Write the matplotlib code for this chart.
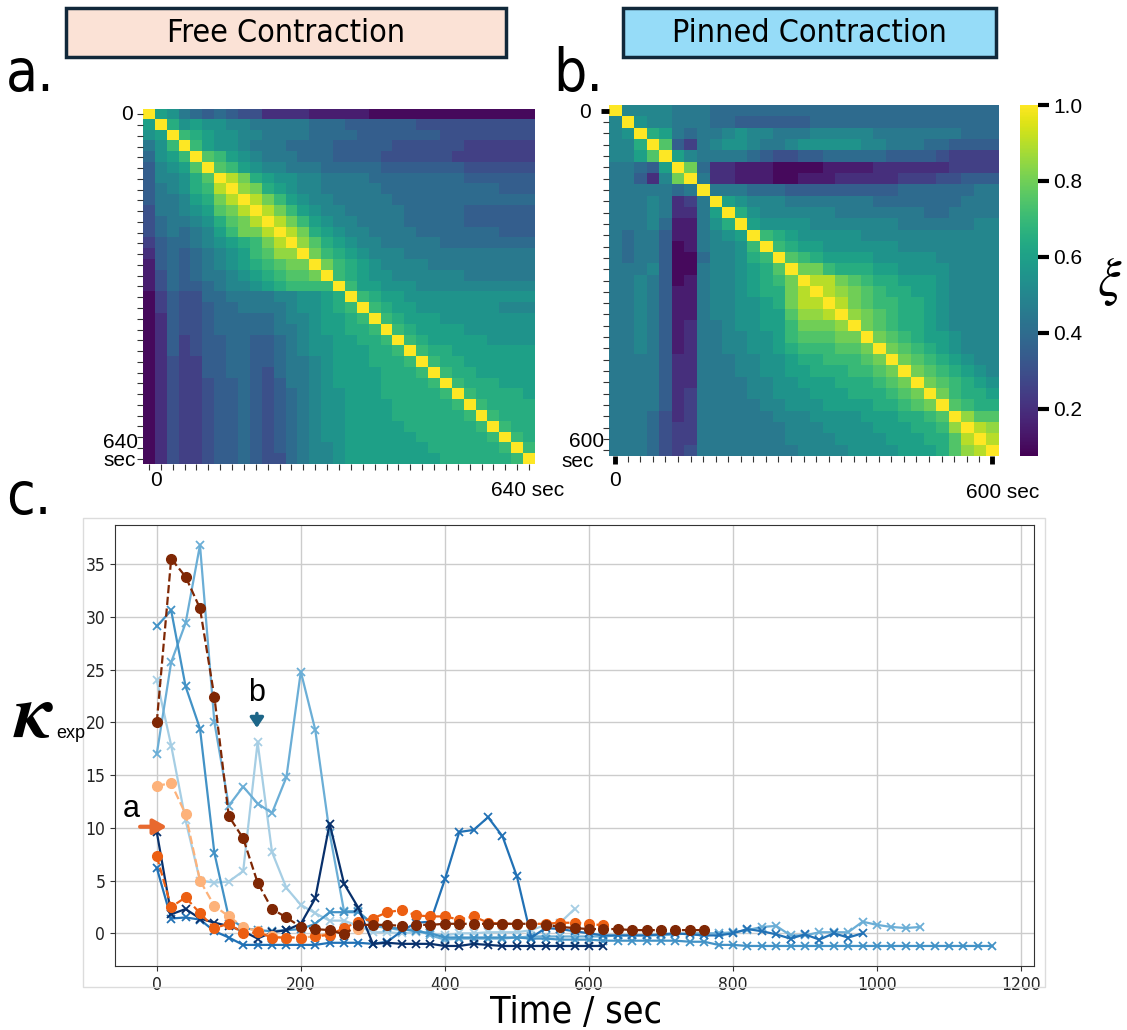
import numpy as np
import matplotlib
matplotlib.use('Agg')
import matplotlib.pyplot as plt
from matplotlib.patches import Rectangle
from matplotlib import font_manager

W, H = 1127, 1030
plt.rcParams['mathtext.fontset'] = 'stix'
SANS = ['Liberation Sans', 'DejaVu Sans']

# pick a narrow regular face for the headers and axis text
_names = {f.name for f in font_manager.fontManager.ttflist}
_condensed = [f.fname for f in font_manager.fontManager.ttflist
              if f.fname.endswith('DejaVuSansCondensed.ttf')]
if 'Liberation Sans Narrow' in _names:
    NARROW = dict(family=['Liberation Sans Narrow', 'DejaVu Sans'])
elif _condensed:
    NARROW = dict(fname=_condensed[0])
else:
    NARROW = dict(family=['DejaVu Sans'])


def narrow(size):
    return font_manager.FontProperties(size=size, **NARROW)


# correlation levels: one letter per cell, a = 0.10 ... s = 1.00
XI_CODES = 'abcdefghijklmnopqrs'
XI_VALUES = [0.10, 0.15, 0.20, 0.25, 0.30, 0.35, 0.40, 0.45, 0.50, 0.55,
             0.60, 0.65, 0.70, 0.75, 0.80, 0.85, 0.90, 0.95, 1.00]

# free contraction, 0..640 s every 20 s
free_rows = [
    "s k j h g f g f e e c c c c b b b b b a a a a a a a a a a a a a a",
    "k s l j k j j i i h h h h h g g g f f f f f f e e e e e e e e e e",
    "j k s m l k j j i i h h h h g g g g f f f f f f f e e e e e e e e",
    "h j m s m k j j i h h h g g g g f f f f f e e e e e e d d d d d d",
    "g j k m s n m k j i h h h g g g f f f f e e e e e e d d d d d d d",
    "f i j k n s n m k j i i h h h g g g g g f f f f f f f e e e e e e",
    "f i i j l n s q o l k j j i i h h h h g g g g g g g g f f f f f f",
    "f h i j l m q s p o l k j i i h h h h h g g g g g g g g g g f f f",
    "f h h i k l o q s q o m k j i i h h h h h g g g g g g g g g g g g",
    "e h h i j k n o q s q o m k j i i h h h h h g g g g g f f f f f f",
    "e g h h i j l n o q s q o m k j i i h h h h g g g g g f f f f f f",
    "e g h g h i k m o o q s q o l k j i i h h h h g g g g g g g f f f",
    "d f g g h i j k l m o q s p n l k j i i h h h h h g g g g g g g g",
    "c f g f g h i j k m n p p s o m l k j i i i h h h h h h h h h h h",
    "b f g f g h i j k l m n o o s o m l k j i i i i h h h h h h h h h",
    "b e g f g h h i j k l m n n o s m l k j j i i i i i i h h h h h h",
    "b e g f f g h i i j k l m m m m s m k k j j j i i i i i i i i i i",
    "a d f e e g g h h h h i i j j k l s m l k k j j j j j j j j j j j",
    "a d f e e f g g h h h h i j j k l m s m l k k j j j j j j j i i i",
    "a c f e e f g g g g g h i i j k k l m s m l k k k j j j j j j j j",
    "a c f e e f g g g g g h h i j k k l l m s m l k k k k j j j j j j",
    "a c f d e f f g g f f g h i j j k k l l m s m l k k k k k j j j j",
    "a c f d e f f g g f f g h i j j k k k l l m s m l l k k k k k k k",
    "a c e d d f f g g f f g h h i j k k k l l l m s m l l k k k k k k",
    "a c e d d f f g g f e g h h i j k k k k l l l m s m l l k k k k k",
    "a c e d d e f f g f e f h h i j k k k k l l l l m s m l l l k k k",
    "a c e d d e f f g f e f g h i j j k k k l l l l l m s m l l l l k",
    "a c e d d e f f g f e f g h i j j k k k k l l l l l m s m l l l l",
    "a c e d d e f f g f e f g h i j j k k k k l l l l l l m s m l l l",
    "a c e d d e f f g f e f g h i j j k k k k k l l l l l l m s m l l",
    "a c e d d e f f g f e f g h i j j k k k k k k l l l l l l m s m l",
    "a c e d d e f f g f e f g h i i j k k k k k k k l l l l l l m s m",
    "a c e d d e f f g f e e g h i i j k k k k k k k k l l l l l l m s",
]

# pinned contraction, 0..600 s every 20 s
pinned_rows = [
    "s i i i i h h h g g g g g g g g g g g g g g g g g g g g g g g",
    "i s j i i h h h g g f f f f f f g g g g g g g g g g g g g g g",
    "i j s l k h g h h i j i i h h h i i i i i h h h h h h h g g g",
    "i i l s n f d h i j j i h h i j j j j j i i h h h g g f f f f",
    "i i k n s k i h h h h g f e e f f g g g g g f f f f e d d d d",
    "h h g f k s o g c c b b b a a a a b b b b c c c c c c d d d d",
    "h h f c i o s h c c b b b a a b b b c c c c c d d d e e f f f",
    "h h h h h g h s h h h g g g f f f f f f f f f g g g g g g h h",
    "h h h i h c d h s k j i i i h h h h h h h g g g g g g g h h h",
    "h h h i h c c h k s l j i i i i i i h h h h h h h g g h h h h",
    "h h h i g b b h j l s k j j j j i i i i i i i h h h h h h i i",
    "h g h h f b b h i j k s m l k j j j j j i i i i i i i i i i i",
    "h g h h f a b h i i j m s m l k k j j j j j j i i i i i i i i",
    "h g h h f a a g i i j l m s n m l k k k k j j j j j i i i i i",
    "h h h i f a a h i i j k l n s o o m l l l k k j j j j i i i i",
    "h h i h f a b h i i j k l m o s q q o n m l l k k k j i i i i",
    "h h i h f b b h i i j k l l o q s q p o n m l l k k j i i i i",
    "h h i h f b b h i i j j k l o q q s q o n m m l l k j i i i i",
    "h h i h f b b h i i j j k k n p p q s p o n m l l k j i i i i",
    "h h i h f b c h h i j j k k m o o o p s o n m l l k j i i i i",
    "h h i h f b c h h i i j j k m n n n o o s o n m l k k j i i i",
    "h h i h f b c h h i i j j k l m m m n n o s o n m l k j i i i",
    "h h h h f c c h h h i i j j k l l m m m n o s o n m l k j i i",
    "h h h h f c c h h h i i j j k k l l l m m n o s o n m l k j i",
    "h h h h f c c h h h h i i j j k k k l l l m n o s o n m l k j",
    "h h h h f c d h h h h i i j j j k k k l l l m n o s o m l l k",
    "h h h h f c d h h h h h i i j j j k k k k l l m n o s n m l l",
    "h h h g e c d h h h h h h i i i j j j j k k k l l m n s p n n",
    "h h h g e d d h h h h h h h i i i j j j j k k k l l m p s q p",
    "h h h g e d d h h h h h h h i i i i j j j j k k k l l n q s q",
    "h h h g e d e h h h h h h h h i i i i j j j j k k k l n p q s",
]

# kappa_exp traces, one sample every 20 s starting at t = 0
free_brown = [20.0, 35.5, 33.8, 30.8, 22.4, 11.1, 9.0, 4.8, 2.3, 1.5, 0.6, 0.4, 0.3, -0.1,
              0.8, 0.8, 0.8, 0.7, 0.8, 0.8, 0.9, 0.9, 0.9, 0.9, 0.9, 0.9, 0.9, 0.8, 0.6,
              0.5, 0.4, 0.4, 0.4, 0.3, 0.3, 0.3, 0.3, 0.3, 0.3]
free_orange = [7.3, 2.5, 3.4, 1.9, 0.5, 0.9, 0.0, 0.1, -0.4, -0.4, -0.4, -0.3, -0.15, 0.5,
               1.1, 1.4, 2.0, 2.2, 1.7, 1.6, 1.6, 1.3, 1.6, 1.0, 0.9, 0.9, 0.9, 0.9, 1.0,
               1.0, 0.9, 0.75]
free_peach = [14.0, 14.2, 11.3, 5.0, 2.6, 1.6, 0.6, 0.2, -0.3, -0.4, -0.4, -0.3, 0.0, 0.3, 0.4]

pinned_1 = [24.0, 17.8, 10.7, 5.0, 4.8, 4.9, 5.9, 18.1, 7.7, 4.3, 2.7, 1.9, 1.2, 1.2, 0.7,
            0.1, 0.1, 0.0, 0.1, 0.0, -0.2, 0.0, 0.0, 0.1, 0.1, 0.1, 0.3, 0.8, 1.0, 2.3]
pinned_2 = [17.0, 25.7, 29.4, 36.8, 20.0, 12.1, 13.9, 12.3, 11.4, 14.8, 24.8, 19.3, 9.5, 2.1,
            2.1, 0.7, 0.5, 0.3, 0.4, -0.2, -0.6, -0.5, -0.5, -0.5, -0.5, -0.4, -0.3, -0.3,
            -0.3, -0.3, -0.3, -0.3, -0.2, -0.2, -0.2, -0.2, -0.1, 0.0, 0.0, 0.0, 0.1, 0.3,
            0.6, 0.7, -0.2, -0.2, 0.1, 0.1, 0.1, 1.1, 0.8, 0.6, 0.5, 0.6]
pinned_3 = [29.1, 30.6, 23.4, 19.4, 7.6, 1.5, 0.5, 0.3, 0.2, 0.3, 0.4, 0.9, 2.0, 2.0, 2.0,
            0.9, 0.6, 0.4, 0.2, 0.0, -0.4, -0.4, -0.4, -0.4, -0.4, -0.4, -0.5, -0.5, -0.6,
            -0.6, -0.6, -0.7, -0.7, -0.7, -0.7, -0.7, -0.7, -0.8, -0.8, -1.1, -1.1, -1.2,
            -1.2, -1.2, -1.2, -1.2, -1.2, -1.2, -1.2, -1.2, -1.2, -1.2, -1.2, -1.2, -1.2,
            -1.2, -1.2, -1.2, -1.2]
pinned_4 = [6.2, 1.4, 1.5, 1.3, 0.2, -0.4, -1.1, -1.1, -1.1, -1.1, -1.1, -1.1, -0.9, -0.9,
            -0.9, -1.0, -0.8, 0.2, 1.0, 1.1, 5.1, 9.6, 9.8, 11.0, 9.2, 5.4, -0.4, 0.5, 0.4,
            0.2, 0.0, -0.2, -0.2, -0.2, -0.2, -0.1, 0.0, -0.1, -0.2, -0.2, 0.0, 0.4, 0.2,
            -0.1, -0.5, -0.1, -0.6, 0.0, -0.4, 0.0]
pinned_5 = [9.6, 1.8, 2.3, 1.4, 1.0, 0.7, 0.2, -0.5, 0.1, 0.3, 0.9, 3.3, 10.4, 4.7, 2.4,
            -1.0, -0.9, -1.0, -1.0, -1.0, -1.2, -1.2, -1.0, -1.1, -1.2, -1.2, -1.2, -1.2,
            -1.2, -1.2, -1.2, -1.2]

blue_traces = [(pinned_1, '#a6cee4'), (pinned_2, '#6baed6'), (pinned_3, '#4292c6'),
               (pinned_4, '#2171b5'), (pinned_5, '#08306b')]
orange_traces = [(free_peach, '#fdb27a'), (free_orange, '#ec5f12'), (free_brown, '#7f2704')]
DT = 20


def decode(rows):
    return np.array([[XI_VALUES[XI_CODES.index(c)] for c in r.split()] for r in rows])


def fig_box(x0, y0, x1, y1):
    return [x0 / W, 1 - y1 / H, (x1 - x0) / W, (y1 - y0) / H]


def ftext(px, py, s, **kw):
    fig.text(px / W, 1 - py / H, s, **kw)


fig = plt.figure(figsize=(W / 100, H / 100), dpi=100)

# faint frame around the lower panel
fig.patches.append(Rectangle((83 / W, 1 - 987 / H), (1045 - 83) / W, (987 - 518) / H,
                             transform=fig.transFigure, fill=False,
                             edgecolor='#dcdcdc', lw=1))

# header boxes
for (x0, x1, face, label) in [(66, 506, '#fbe2d6', 'Free Contraction'),
                              (623, 996, '#96dcf8', 'Pinned Contraction')]:
    fig.patches.append(Rectangle((x0 / W, 1 - 57 / H), (x1 - x0) / W, 49 / H,
                                 transform=fig.transFigure, facecolor=face,
                                 edgecolor='#11283a', lw=2.5))
    ftext((x0 + x1) / 2, 34, label, ha='center', va='center', fontproperties=narrow(23))

ftext(6, 91, 'a.', va='baseline', fontproperties=narrow(42))
ftext(553, 91, 'b.', va='baseline', fontproperties=narrow(42))
ftext(6, 514, 'c.', va='baseline', fontproperties=narrow(42))

# heatmaps
free_xi = decode(free_rows)
pinned_xi = decode(pinned_rows)
ax_a = fig.add_axes(fig_box(143, 109, 535, 464))
ax_b = fig.add_axes(fig_box(609, 105, 998, 456))
cax = fig.add_axes(fig_box(1020, 105, 1038, 456))

for ax, xi in [(ax_a, free_xi), (ax_b, pinned_xi)]:
    im = ax.imshow(xi, cmap='viridis', vmin=0.075, vmax=1.0, aspect='auto',
                   interpolation='nearest')
    n = xi.shape[0]
    ax.set_xticks(range(n), minor=True)
    ax.set_yticks(range(n), minor=True)
    ax.tick_params(which='minor', length=4, width=0.8, color='#333333')
    for sp in ax.spines.values():
        sp.set_visible(False)

ax_a.set_xticks([])
ax_a.set_yticks([])
ax_b.set_xticks([0, pinned_xi.shape[0] - 1])
ax_b.set_yticks([0])
ax_b.tick_params(which='major', length=6, width=3.5, color='black',
                 labelbottom=False, labelleft=False)

ftext(133, 114, '0', ha='right', va='center', fontsize=15, family=SANS)
ftext(138, 442, '640', ha='right', va='center', fontsize=15, family=SANS)
ftext(136, 460, 'sec', ha='right', va='center', fontsize=15, family=SANS)
ftext(156, 480, '0', ha='center', va='center', fontsize=15, family=SANS)
ftext(491, 490, '640 sec', ha='left', va='center', fontsize=15, family=SANS)

ftext(591, 112, '0', ha='right', va='center', fontsize=15, family=SANS)
ftext(604, 441, '600', ha='right', va='center', fontsize=15, family=SANS)
ftext(594, 461, 'sec', ha='right', va='center', fontsize=15, family=SANS)
ftext(615, 480, '0', ha='center', va='center', fontsize=15, family=SANS)
ftext(1003, 493, '600 sec', ha='center', va='center', fontsize=15, family=SANS)

cb = fig.colorbar(im, cax=cax, ticks=[0.2, 0.4, 0.6, 0.8, 1.0])
cb.outline.set_visible(False)
cax.tick_params(length=8, width=3, color='black', labelsize=15, pad=3)
for t in cax.get_yticklabels():
    t.set_family(SANS)
ftext(1110, 282, r'$\xi$', ha='center', va='center', fontsize=38)

# kappa_exp traces
ax_c = fig.add_axes(fig_box(115, 525, 1034, 966))
for vals, col in blue_traces:
    t = np.arange(len(vals)) * DT
    ax_c.plot(t, vals, '-', color=col, marker='x', ms=6, mew=1.3, lw=1.6)
for vals, col in orange_traces:
    t = np.arange(len(vals)) * DT
    ax_c.plot(t, vals, '--', color=col, marker='o', ms=7, lw=1.6)

ax_c.set_xticks([0, 200, 400, 600, 800, 1000, 1200])
ax_c.set_yticks([0, 5, 10, 15, 20, 25, 30, 35])
ax_c.grid(True, color='#cccccc', lw=1)
ax_c.set_axisbelow(True)
ax_c.tick_params(color='#333333', labelcolor='#222222')
for t in ax_c.get_xticklabels() + ax_c.get_yticklabels():
    t.set_fontproperties(narrow(12.5))
for sp in ax_c.spines.values():
    sp.set_color('#333333')

ax_c.annotate('', xy=(18, 10.1), xytext=(-27, 10.1),
              arrowprops=dict(arrowstyle='-|>,head_length=0.8,head_width=0.45',
                              color='#e8692e', lw=3))
ax_c.text(-36, 11.8, 'a', fontsize=22, ha='center', va='center', family=SANS)
ax_c.annotate('', xy=(139, 19.2), xytext=(139, 21.1),
              arrowprops=dict(arrowstyle='-|>,head_length=0.6,head_width=0.4',
                              color='#1d6688', lw=2.5))
ax_c.text(139, 22.8, 'b', fontsize=22, ha='center', va='center', family=SANS)

ftext(34, 716, r'$\boldsymbol{\kappa}$', ha='center', va='center', fontsize=54)
ftext(56, 734, 'exp', ha='left', va='center', fontsize=13, family=SANS)
ftext(576, 1023, 'Time / sec', ha='center', va='baseline', fontproperties=narrow(27))

fig.savefig('out.png', dpi=100)
